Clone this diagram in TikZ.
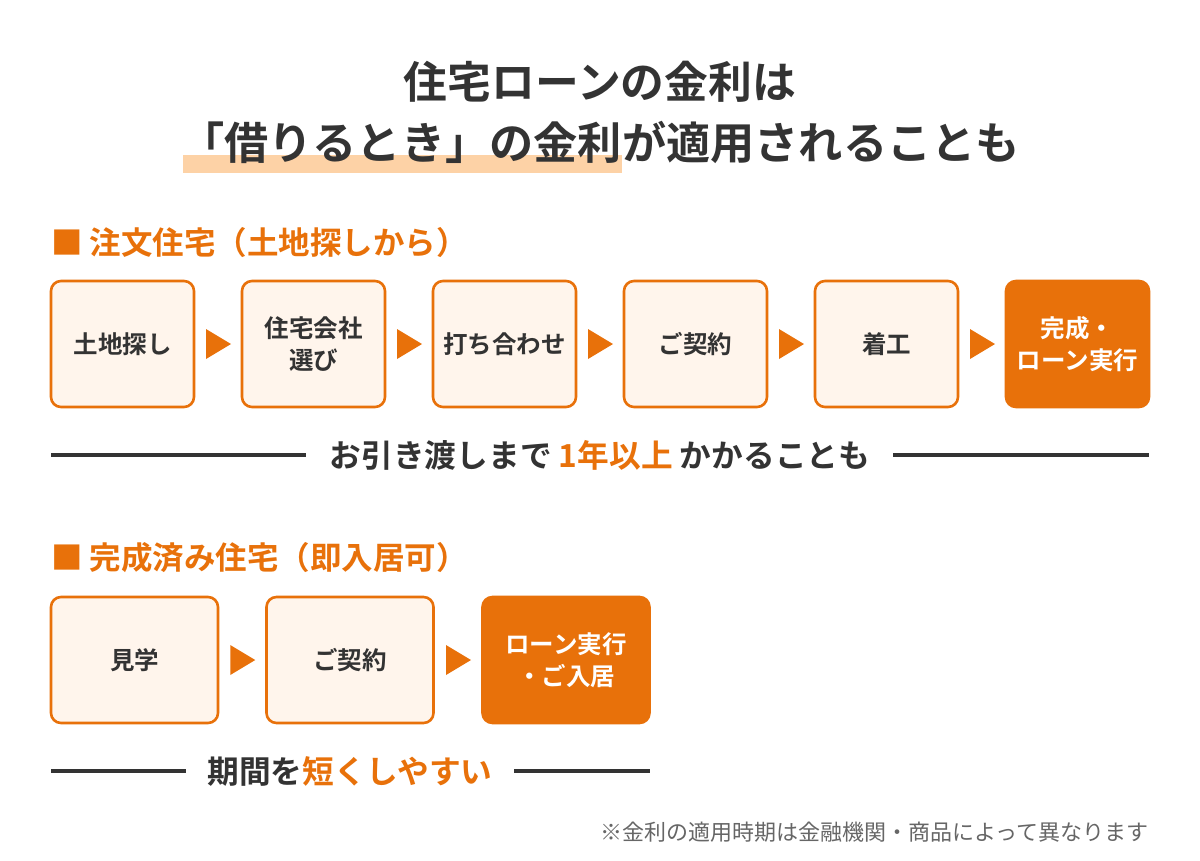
\documentclass[tikz,border=0pt]{standalone}
\usepackage{fontspec}
\setmainfont{Noto Sans CJK JP}[BoldFont={Noto Sans CJK JP Bold}]
\usetikzlibrary{calc}
\definecolor{accent}{HTML}{E8710A}
\definecolor{hilite}{HTML}{FDD2A6}
\definecolor{boxfill}{HTML}{FFF5EC}
\definecolor{ink}{HTML}{333333}
\definecolor{note}{HTML}{666666}
\begin{document}
\begin{tikzpicture}[x=1pt,y=-1pt,
  stepbox/.style={draw=accent,line width=2.6pt,fill=boxfill,rounded corners=10pt,
    minimum height=126pt,inner sep=0pt,text=ink,align=center,
    font=\fontsize{24.5}{32.5}\selectfont\bfseries},
  finalbox/.style={stepbox,fill=accent,text=white},
  tri/.style={fill=accent,draw=none},
  rule/.style={draw=ink,line width=4pt},
  heading/.style={anchor=west,inner sep=0pt,text=accent,font=\fontsize{31.5}{36}\selectfont\bfseries},
  midtext/.style={inner sep=0pt,text=ink,font=\fontsize{31.7}{36}\selectfont\bfseries}]
\useasboundingbox[fill=white] (0,0) rectangle (1200,860);

% title
\fill[hilite] (183,155) rectangle (622,173);
\node[inner sep=0pt,text=ink,font=\fontsize{43.8}{52}\selectfont\bfseries] (t1) at (600,82) {住宅ローンの金利は};
\node[inner sep=0pt,text=ink,font=\fontsize{44.2}{52}\selectfont\bfseries] (t2) at (600,142) {「借りるとき」の金利が適用されることも};

% section 1
\node[heading] (h1) at (51,243) {■ 注文住宅（土地探しから）};
\node[stepbox,minimum width=143pt] (a1) at (122.5,344) {土地探し};
\node[stepbox,minimum width=143pt] (a2) at (313.5,344) {住宅会社\\選び};
\node[stepbox,minimum width=143pt] (a3) at (504.5,344) {打ち合わせ};
\node[stepbox,minimum width=143pt] (a4) at (695.5,344) {ご契約};
\node[stepbox,minimum width=143pt] (a5) at (886.5,344) {着工};
\node[finalbox,minimum width=143pt] (a6) at (1077.5,344) {完成・\\ローン実行};
\foreach \p/\q in {a1/a2,a2/a3,a3/a4,a4/a5,a5/a6}{
  \fill[tri] ($(\p.east)!0.5!(\q.west)$) ++(-12,-15) -- ++(25,15) -- ++(-25,15) -- cycle;
}
\node[midtext] (m1) at (600,455) {お引き渡しまで \textcolor{accent}{1年以上} かかることも};
\coordinate (r1a) at (51,455);
\coordinate (r1b) at (306,455);
\coordinate (r1c) at (893,455);
\coordinate (r1d) at (1149,455);
\draw[rule] (r1a) -- (r1b);
\draw[rule] (r1c) -- (r1d);

% section 2
\node[heading] (h2) at (51,558) {■ 完成済み住宅（即入居可）};
\node[stepbox,minimum width=167pt] (b1) at (134.5,660) {見学};
\node[stepbox,minimum width=167pt] (b2) at (350,660) {ご契約};
\node[finalbox,minimum width=167pt] (b3) at (566,660) {ローン実行\\・ご入居};
\foreach \p/\q in {b1/b2,b2/b3}{
  \fill[tri] ($(\p.east)!0.5!(\q.west)$) ++(-12,-15) -- ++(25,15) -- ++(-25,15) -- cycle;
}
\node[midtext] (m2) at (350,771) {期間を\textcolor{accent}{短くしやすい}};
\coordinate (r2a) at (51,771);
\coordinate (r2b) at (186,771);
\coordinate (r2c) at (514,771);
\coordinate (r2d) at (650,771);
\draw[rule] (r2a) -- (r2b);
\draw[rule] (r2c) -- (r2d);

% footnote
\node[anchor=east,inner sep=0pt,text=note,font=\fontsize{22}{26}\selectfont] (fn) at (1149,832) {※金利の適用時期は金融機関・商品によって異なります};
\end{tikzpicture}
\end{document}
